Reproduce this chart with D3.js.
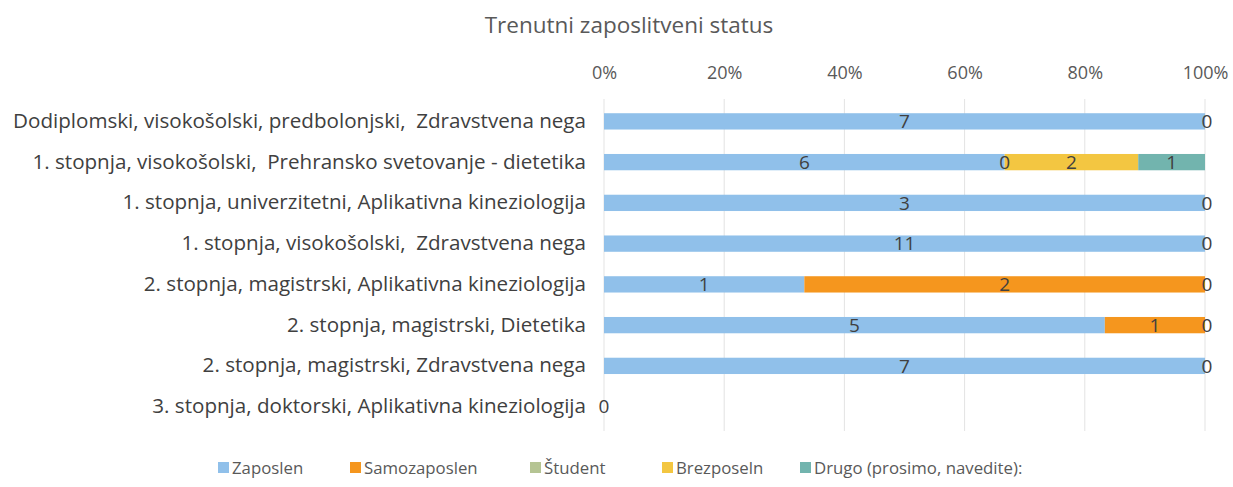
<!DOCTYPE html>
<html>
<head>
<meta charset="utf-8">
<script src="https://cdn.jsdelivr.net/npm/d3@7"></script>
<style>
  body { margin: 0; background: #fff; }
  svg text { font-family: "Open Sans", Lato, sans-serif; white-space: pre; }
</style>
</head>
<body>
<div id="chart"></div>
<script>
// categories top -> bottom
const categories = [
    'Dodiplomski, visokošolski, predbolonjski,  Zdravstvena nega',
    '1. stopnja, visokošolski,  Prehransko svetovanje - dietetika',
    '1. stopnja, univerzitetni, Aplikativna kineziologija',
    '1. stopnja, visokošolski,  Zdravstvena nega',
    '2. stopnja, magistrski, Aplikativna kineziologija',
    '2. stopnja, magistrski, Dietetika',
    '2. stopnja, magistrski, Zdravstvena nega',
    '3. stopnja, doktorski, Aplikativna kineziologija'
]

const seriesNames = ['Zaposlen', 'Samozaposlen', 'Študent', 'Brezposeln', 'Drugo (prosimo, navedite):']
const seriesColors = ['#90c0ea', '#f5961e', '#b5c493', '#f3c641', '#72b4ae']

const zaposlen     = [7, 6, 3, 11, 1, 5, 7, 0]
const samozaposlen = [0, 0, 0, 0, 2, 1, 0, 0]
const student      = [0, 0, 0, 0, 0, 0, 0, 0]
const brezposeln   = [0, 2, 0, 0, 0, 0, 0, 0]
const drugo        = [0, 1, 0, 0, 0, 0, 0, 0]

const tickValues = [0, 0.2, 0.4, 0.6, 0.8, 1]

const width = 1233, height = 487
const plot = { left: 604, right: 1205, top: 101, bottom: 427 }

const svg = d3.select('#chart').append('svg')
    .attr('width', width)
    .attr('height', height)

// build rows of stacked shares
const allSeries = [zaposlen, samozaposlen, student, brezposeln, drugo]
const rows = categories.map((c, i) => {
    const row = { cat: c }
    const total = d3.sum(allSeries, s => s[i])
    seriesNames.forEach((n, k) => {
        row[n] = total > 0 ? allSeries[k][i] / total : 0
        row[n + '_count'] = allSeries[k][i]
    })
    return row
})

const stacked = d3.stack().keys(seriesNames)(rows)

const x = d3.scaleLinear().domain([0, 1]).range([plot.left, plot.right])
const y = d3.scaleBand().domain(categories).range([plot.top, plot.bottom]).paddingInner(0.6).paddingOuter(0.3)

// title
svg.append('text')
    .attr('x', 629)
    .attr('y', 33)
    .attr('text-anchor', 'middle')
    .attr('fill', '#595959')
    .style('font-size', '22.5px')
    .text('Trenutni zaposlitveni status')

// gridlines
svg.append('g')
    .selectAll('line')
    .data(tickValues)
    .join('line')
    .attr('x1', d => x(d)).attr('x2', d => x(d))
    .attr('y1', plot.top - 2).attr('y2', plot.bottom + 4)
    .attr('stroke', '#e3e3e3')
    .attr('stroke-width', 1)

// top axis (percent)
const xAxis = svg.append('g')
    .attr('transform', 'translate(0,' + 79 + ')')
    .call(d3.axisTop(x).tickValues(tickValues).tickFormat(d3.format('.0%')).tickSize(0).tickPadding(0))
xAxis.select('.domain').remove()
xAxis.selectAll('text')
    .attr('fill', '#595959')
    .style('font-size', '18px')

// left axis (categories)
const yAxis = svg.append('g')
    .attr('transform', 'translate(' + plot.left + ',0)')
    .call(d3.axisLeft(y).tickSize(0).tickPadding(18))
yAxis.select('.domain').remove()
yAxis.selectAll('text')
    .attr('fill', '#404040')
    .style('font-size', '20.6px')

// bars
const layers = svg.append('g')
    .selectAll('g')
    .data(stacked)
    .join('g')
    .attr('fill', (d, i) => seriesColors[i])

layers.selectAll('rect')
    .data(d => d)
    .join('rect')
    .attr('x', d => x(d[0]))
    .attr('y', d => y(d.data.cat))
    .attr('width', d => x(d[1]) - x(d[0]))
    .attr('height', y.bandwidth())

// value labels (zeros included, as in the original); labels that fall on
// the same spot are drawn once so they do not smear into bold
const labels = svg.append('g')
const seen = new Set()
stacked.forEach(layer => {
    layer.forEach(d => {
        const lx = x((d[0] + d[1]) / 2)
        const ly = y(d.data.cat) + y.bandwidth() / 2
        const txt = d.data[layer.key + '_count']
        const key = Math.round(lx) + '_' + Math.round(ly) + '_' + txt
        if (seen.has(key)) return
        seen.add(key)
        labels.append('text')
            .attr('x', lx + (d[1] === 1 && d[0] === 1 ? 2 : 0))
            .attr('y', ly)
            .attr('dy', '0.36em')
            .attr('text-anchor', 'middle')
            .attr('fill', '#404040')
            .style('font-size', '19px')
            .text(txt)
    })
})

// legend
const legendX = [218, 350, 530, 662, 800]
const legend = svg.append('g')
    .selectAll('g')
    .data(seriesNames)
    .join('g')
    .attr('transform', (d, i) => 'translate(' + legendX[i] + ',' + 468 + ')')

legend.append('rect')
    .attr('x', 0).attr('y', -6)
    .attr('width', 11).attr('height', 11)
    .attr('fill', (d, i) => seriesColors[i])

legend.append('text')
    .attr('x', 14)
    .attr('y', 0)
    .attr('dy', '0.35em')
    .attr('fill', '#595959')
    .style('font-size', '16.8px')
    .text(d => d)
</script>
</body>
</html>
